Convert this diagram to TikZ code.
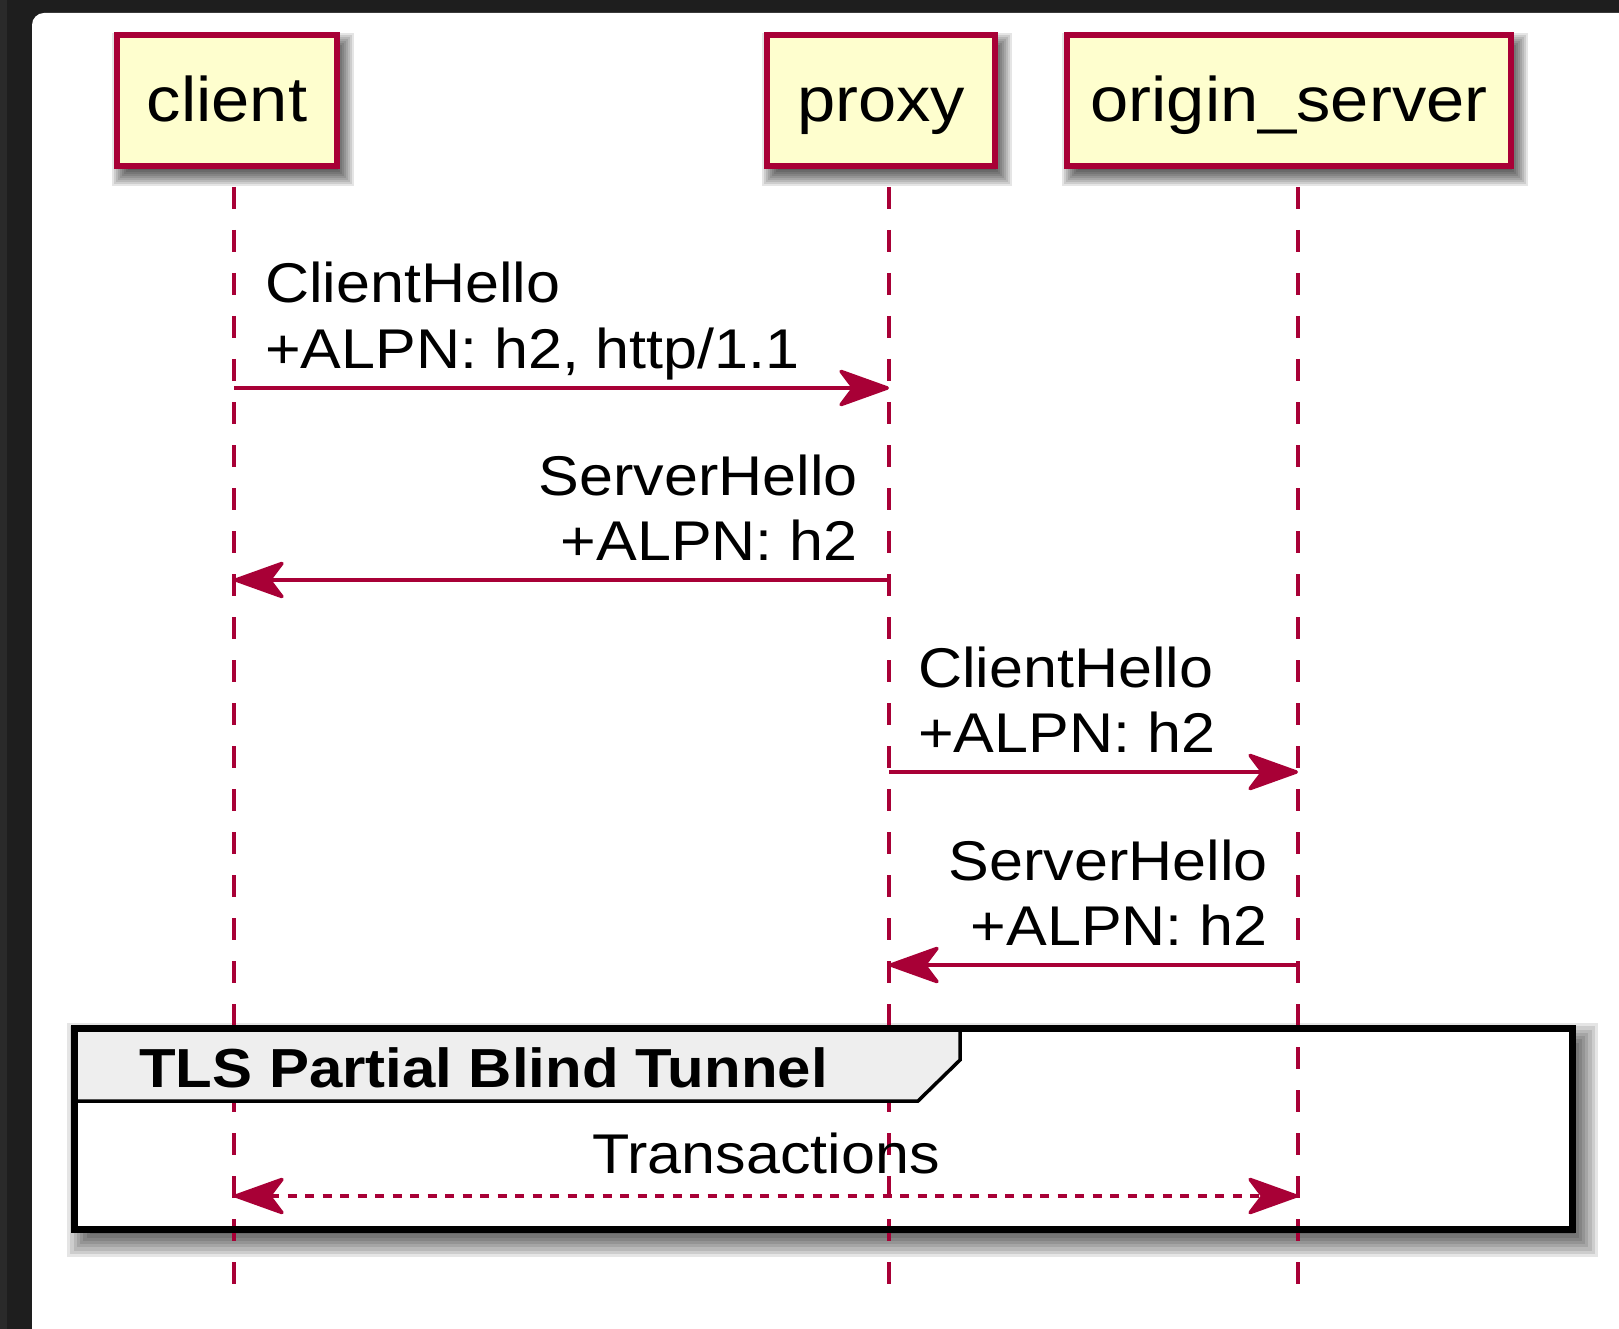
\documentclass[tikz,border=0pt]{standalone}
\usepackage{fontspec}
\setmainfont[FakeStretch=1.09]{Liberation Sans}
\usetikzlibrary{arrows.meta}
\definecolor{plum}{HTML}{A80036}
\definecolor{boxfill}{HTML}{FEFECE}
\definecolor{hdrfill}{HTML}{EEEEEE}
\definecolor{darkbg}{HTML}{1E1E1E}
\definecolor{darkstrip}{HTML}{2A2A2A}
\tikzset{
  participant/.style={draw=plum, fill=boxfill, line width=6pt, inner sep=0pt,
    font=\fontsize{63}{72}\selectfont, text height=45pt, text depth=2.6pt,
    minimum height=131pt},
  shadowlayer/.style={fill=black, fill opacity=0.1, draw=none},
  lifeline/.style={draw=plum, line width=4pt, dash pattern=on 22pt off 21pt},
  msglabel/.style={inner sep=0pt, font=\fontsize{56}{65}\selectfont},
  grplabelstyle/.style={inner sep=0pt, font=\fontsize{55}{65}\selectfont\bfseries},
  msg/.style={draw=plum, line width=3.5pt, -{Stealth[length=56pt,width=40pt,inset=15pt,round]}},
  dotmsg/.style={draw=plum, line width=3.5pt, dash pattern=on 9pt off 8.5pt,
    {Stealth[length=56pt,width=40pt,inset=15pt,round]}-{Stealth[length=56pt,width=40pt,inset=15pt,round]}},
  grpframe/.style={draw=black, line width=7pt, inner sep=0pt},
  grpbody/.style={fill=white, draw=none},
  grphdr/.style={draw=black, fill=hdrfill, line width=3.5pt, line join=miter}
}
% soft shadow: x1 y1 x2 y2 (outer box), dx dy offset, spread
\newcommand\softshadow[7]{%
  \foreach \k in {-#7,-0.75*#7,-0.5*#7,-0.25*#7,0,0.25*#7,0.5*#7,0.75*#7,#7}{%
    \fill[shadowlayer] (#1+#5+\k,#2+#6+\k) rectangle (#3+#5-\k,#4+#6-\k);}}
\begin{document}
\begin{tikzpicture}[x=1pt,y=-1pt]
\clip (0,0) rectangle (1619,1329);
% screenshot frame
\fill[darkbg] (0,0) rectangle (1619,1329);
\fill[darkstrip] (0,0) rectangle (7,1329);
\fill[white, rounded corners=12pt] (32,13) rectangle (1660,1370);

% participant shadows
\softshadow{114}{32}{340}{169}{6}{9}{8}
\softshadow{764}{32}{998}{169}{6}{9}{8}
\softshadow{1064}{32}{1514}{169}{6}{9}{8}

% participants
\node[participant, minimum width=220pt] (client) at (227,100.5) {client};
\node[participant, minimum width=228pt] (proxy) at (881,100.5) {proxy};
\node[participant, minimum width=444pt] (origin) at (1289,100.5) {origin\_server};

% group shadow and body
\softshadow{71}{1025}{1576}{1233}{9}{11}{13}
\path[grpbody] (74,1028.5) rectangle (1572,1229.5);

% lifelines
\coordinate (cT) at (234,187);  \coordinate (cB) at (234,1285);
\coordinate (pT) at (889,187);  \coordinate (pB) at (889,1285);
\coordinate (oT) at (1298,187); \coordinate (oB) at (1298,1285);
\draw[lifeline] (cT) -- (cB);
\draw[lifeline] (pT) -- (pB);
\draw[lifeline] (oT) -- (oB);

% group header and frame
\draw[grphdr] (74,1028.5) -- (960,1028.5) -- (960,1060) -- (918,1101) -- (74,1101);
\node[grpframe, minimum width=1498pt, minimum height=201pt] (grp) at (823,1129) {};
\node[grplabelstyle, anchor=base west] (grplabel) at (139,1087) {TLS Partial Blind Tunnel};

% message end points
\coordinate (m1s) at (234,388);  \coordinate (m1e) at (889,388);
\coordinate (m2s) at (889,580);  \coordinate (m2e) at (234,580);
\coordinate (m3s) at (889,772);  \coordinate (m3e) at (1298,772);
\coordinate (m4s) at (1298,965); \coordinate (m4e) at (889,965);
\coordinate (m5s) at (234,1196); \coordinate (m5e) at (1298,1196);

\draw[msg] (m1s) -- (m1e);
\draw[msg] (m2s) -- (m2e);
\draw[msg] (m3s) -- (m3e);
\draw[msg] (m4s) -- (m4e);
\draw[dotmsg] (m5s) -- (m5e);

% labels
\node[msglabel, anchor=base west] (l1a) at (265,303) {ClientHello};
\node[msglabel, anchor=base west] (l1b) at (265,368) {+ALPN: h2, http/1.1};
\node[msglabel, anchor=base east] (l2a) at (858,495) {ServerHello};
\node[msglabel, anchor=base east] (l2b) at (858,560) {+ALPN: h2};
\node[msglabel, anchor=base west] (l3a) at (918,687) {ClientHello};
\node[msglabel, anchor=base west] (l3b) at (918,752) {+ALPN: h2};
\node[msglabel, anchor=base east] (l4a) at (1268,880) {ServerHello};
\node[msglabel, anchor=base east] (l4b) at (1268,945) {+ALPN: h2};
\node[msglabel, anchor=base] (l5) at (766,1173) {Transactions};
\end{tikzpicture}
\end{document}
